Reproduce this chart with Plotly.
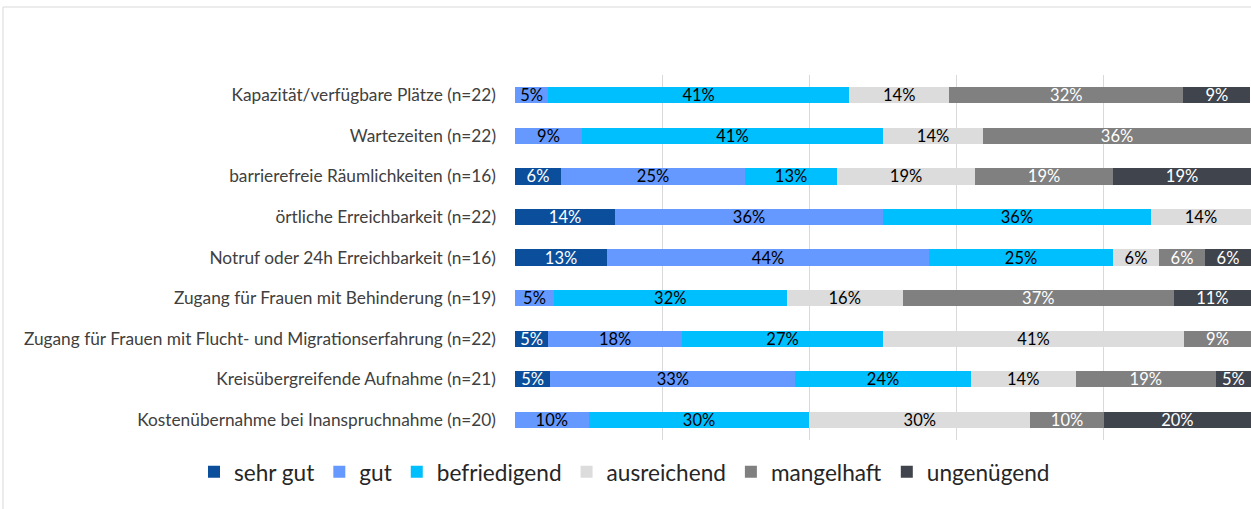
import plotly.graph_objects as go

categories = [
    "Kapazität/verfügbare Plätze (n=22)",
    "Wartezeiten (n=22)",
    "barrierefreie Räumlichkeiten (n=16)",
    "örtliche Erreichbarkeit (n=22)",
    "Notruf oder 24h Erreichbarkeit (n=16)",
    "Zugang für Frauen mit Behinderung (n=19)",
    "Zugang für Frauen mit Flucht- und Migrationserfahrung (n=22)",
    "Kreisübergreifende Aufnahme (n=21)",
    "Kostenübernahme bei Inanspruchnahme (n=20)",
]

sehr_gut     = [0,    0,    6.25, 13.6, 12.5, 0,    4.5,  4.8,  0]
gut          = [4.5,  9.1,  25.0, 36.4, 43.75, 5.3, 18.2, 33.3, 10.0]
befriedigend = [40.9, 40.9, 12.5, 36.4, 25.0, 31.6, 27.3, 23.8, 30.0]
ausreichend  = [13.6, 13.6, 18.75, 13.6, 6.25, 15.8, 40.9, 14.3, 30.0]
mangelhaft   = [31.8, 36.4, 18.75, 0,   6.25, 36.8, 9.1,  19.0, 10.0]
ungenuegend  = [9.1,  0,    18.75, 0,   6.25, 10.5, 0,    4.8,  20.0]

series = [
    ("sehr gut", sehr_gut, "#0B4F9C", "white"),
    ("gut", gut, "#6699FF", "black"),
    ("befriedigend", befriedigend, "#00BFFF", "black"),
    ("ausreichend", ausreichend, "#DCDCDC", "black"),
    ("mangelhaft", mangelhaft, "#808080", "white"),
    ("ungenügend", ungenuegend, "#3F444D", "white"),
]

FONT = "Lato, 'Liberation Sans', sans-serif"

fig = go.Figure()
for name, vals, color, tcol in series:
    texts = [f"{round(v + 1e-9):d}%" if v > 0 else "" for v in vals]
    fig.add_trace(go.Bar(
        name=name, y=categories, x=vals, orientation="h",
        marker=dict(color=color, line=dict(width=0)),
        text=texts, textposition="inside", insidetextanchor="middle",
        textangle=0, constraintext="none",
        textfont=dict(color=tcol, size=16.5, family=FONT),
    ))

W, H = 1251, 509
L, R, T, B = 515, 0, 75, 69
pw, ph = W - L - R, H - T - B

def px2x(px):
    return (px - L) / pw

def py2y(py):
    return (H - B - py) / ph

fig.update_layout(
    barmode="stack",
    bargap=0.6,
    width=W, height=H,
    margin=dict(l=L, r=R, t=T, b=B, pad=0),
    paper_bgcolor="white", plot_bgcolor="white",
    font=dict(family=FONT, color="#404040", size=14),
    showlegend=True,
    legend=dict(orientation="h", xref="paper", yref="paper",
                x=px2x(194), xanchor="left", y=py2y(472), yanchor="middle",
                font=dict(size=22.6, color="#262626", family=FONT),
                itemwidth=30, traceorder="normal", itemclick=False,
                bgcolor="rgba(0,0,0,0)"),
    uniformtext=dict(minsize=16.5, mode="show"),
    shapes=[dict(type="rect", xref="paper", yref="paper",
                 x0=px2x(3), x1=px2x(1260), y0=py2y(520), y1=py2y(7),
                 line=dict(color="#D9D9D9", width=1), fillcolor="rgba(0,0,0,0)", layer="below")],
)
fig.update_xaxes(range=[0, 100], tickvals=[0, 20, 40, 60, 80, 100], showticklabels=False,
                 showgrid=True, gridcolor="#D9D9D9", gridwidth=1, zeroline=False,
                 showline=False, fixedrange=True)
fig.update_yaxes(autorange="reversed", showgrid=False, ticks="", ticklabelstandoff=18,
                 tickfont=dict(size=17.3, color="#404040", family=FONT), fixedrange=True)

fig.write_html("out.html", config={"displayModeBar": False},
               post_script="document.body.style.margin='0';document.body.style.overflow='hidden';")
